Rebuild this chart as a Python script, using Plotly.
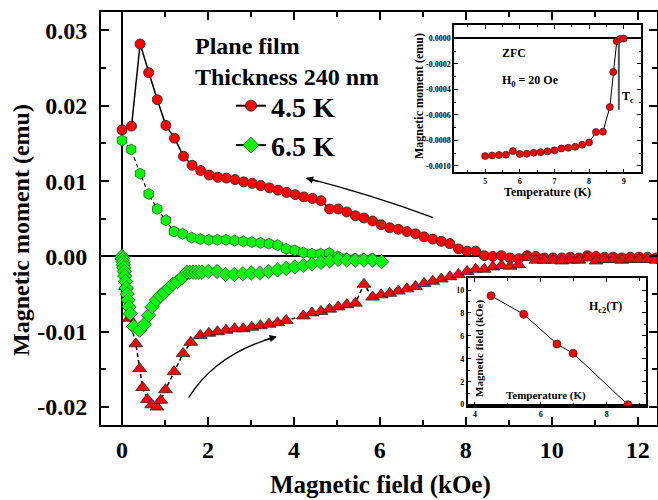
import plotly.graph_objects as go

FONT = "Liberation Serif"

# ---------------- main panel data ----------------
# 4.5 K, branch returning from high field (circles)
H_45_down = [0.0, 0.22, 0.42, 0.62, 0.82, 1.02, 1.22, 1.43, 1.63, 1.83,
             2.03, 2.23, 2.43, 2.63, 2.83, 3.03, 3.23, 3.43, 3.63, 3.83,
             4.03, 4.23, 4.43, 4.63, 4.83, 5.03, 5.23, 5.43, 5.63, 5.83,
             6.03, 6.23, 6.43, 6.63, 6.83, 7.03, 7.23, 7.43, 7.63, 7.83,
             8.03, 8.23, 8.43, 8.63, 8.83, 9.03, 9.23, 9.43, 9.63, 9.83,
             10.03, 10.23, 10.43, 10.63, 10.83, 11.03, 11.23, 11.43, 11.63, 11.83,
             12.03, 12.23, 12.43]
M_45_down = [0.0168, 0.0173, 0.0282, 0.0244, 0.0208, 0.0174, 0.0157, 0.0133, 0.0121, 0.0114,
             0.0108, 0.0105, 0.0104, 0.0102, 0.0099, 0.0097, 0.0094, 0.0091, 0.0088, 0.0085,
             0.0082, 0.0079, 0.0077, 0.0074, 0.0063, 0.0063, 0.0059, 0.0054, 0.0051, 0.0047,
             0.0042, 0.0038, 0.0036, 0.0033, 0.0030, 0.0026, 0.0023, 0.0020, 0.0017, 0.0010,
             0.0007, 0.0007, 0.0001, 0.0000, 0.0001, -0.0002, -0.0003, 0.0001, 0.0000, -0.0002,
             -0.0002, -0.0002, -0.0001, -0.0002, 0.0001, 0.0000, -0.0001, -0.0001, -0.0002, -0.0001,
             -0.0001, -0.0001, -0.0002]

# 4.5 K, branch with increasing field (triangles)
H_45_up = [0.0, 0.08, 0.17, 0.32, 0.41, 0.48, 0.59, 0.69, 0.81, 0.90,
           1.01, 1.21, 1.42, 1.60, 1.82, 2.02, 2.22, 2.42, 2.62, 2.82,
           3.02, 3.22, 3.42, 3.62, 3.82, 4.22, 4.42, 4.63, 4.83,
           5.03, 5.23, 5.43, 5.63, 5.83, 6.03, 6.23, 6.43, 6.63, 6.83,
           7.03, 7.23, 7.43, 7.63, 7.83, 8.03, 8.23, 8.43, 8.63, 8.83,
           9.03, 9.23, 9.43, 9.63, 9.83, 10.03, 10.23, 10.43, 10.63, 10.83,
           11.03, 11.23, 11.43, 11.63, 11.83, 12.03, 12.23, 12.43]
M_45_up = [0.0, -0.0040, -0.0082, -0.0116, -0.0149, -0.0174, -0.0190, -0.0197, -0.0200, -0.0191,
           -0.0177, -0.0153, -0.0129, -0.0114, -0.0105, -0.0102, -0.0100, -0.0098, -0.0096, -0.0096,
           -0.0094, -0.0092, -0.0090, -0.0088, -0.0085, -0.0079, -0.0075, -0.0073, -0.0070,
           -0.0067, -0.0064, -0.0062, -0.0037, -0.0054, -0.0051, -0.0049, -0.0046, -0.0043, -0.0040,
           -0.0036, -0.0033, -0.0030, -0.0027, -0.0024, -0.0020, -0.0017, -0.0017, -0.0014, -0.0012,
           -0.0013, -0.0011, -0.0001, -0.0005, -0.0005, -0.0005, -0.0006, -0.0005, -0.0005, -0.0002,
           -0.0006, -0.0004, -0.0004, -0.0005, -0.0004, -0.0004, -0.0004, -0.0005]

# 6.5 K, returning branch (hexagons)
H_65_down = [0.0, 0.21, 0.42, 0.62, 0.82, 1.02, 1.21, 1.41, 1.62, 1.82,
             2.02, 2.22, 2.42, 2.62, 2.82, 3.02, 3.22, 3.42, 3.62, 3.82,
             4.02, 4.22, 4.42, 4.62, 4.82, 5.02, 5.22, 5.42, 5.62, 5.82]
M_65_down = [0.0154, 0.0142, 0.0110, 0.0083, 0.0063, 0.0048, 0.0033, 0.0030, 0.0025, 0.0023,
             0.0022, 0.0022, 0.0022, 0.0021, 0.0020, 0.0019, 0.0018, 0.0017, 0.0015, 0.0010,
             0.0008, 0.0005, 0.00035, 0.00035, 0.00044, 0.0000, -0.00027, -0.0003, -0.0003, -0.0003]

# 6.5 K, increasing field branch (diamonds)
H_65_up = [0.0, 0.01, 0.02, 0.03, 0.04, 0.05, 0.06, 0.08, 0.10, 0.12, 0.14, 0.16, 0.19,
           0.27, 0.41, 0.52, 0.62, 0.70, 0.80, 0.89, 0.98, 1.09, 1.18,
           1.29, 1.40, 1.51, 1.58, 1.65, 1.72, 1.79, 1.86, 2.01, 2.21,
           2.41, 2.61, 2.81, 3.01, 3.21, 3.41, 3.62, 3.82, 4.02, 4.22,
           4.42, 4.63, 4.83, 5.03, 5.23, 5.43, 5.63, 5.83, 6.04]
M_65_up = [0.0, -0.0003, -0.0007, -0.0011, -0.0015, -0.0020, -0.0026, -0.0033, -0.0042, -0.0050,
           -0.0058, -0.0067, -0.0076,
           -0.0093, -0.0098, -0.0090, -0.0078, -0.0067, -0.0058, -0.0052, -0.0048, -0.0042, -0.0037,
           -0.0033, -0.0028, -0.0021, -0.0021, -0.0021, -0.0021, -0.0021, -0.0021, -0.0020, -0.0020,
           -0.0024, -0.0024, -0.0023, -0.0022, -0.0022, -0.0020, -0.0018, -0.0016, -0.0014, -0.0012,
           -0.0010, -0.0008, -0.0006, -0.0004, -0.0005, -0.0005, -0.0005, -0.0005, -0.0007]

main_xticks = [0, 2, 4, 6, 8, 10, 12]
main_yticks = [-0.02, -0.01, 0.0, 0.01, 0.02, 0.03]
main_yticktext = ["-0.02", "-0.01", "0.00", "0.01", "0.02", "0.03"]

# ---------------- inset 1: ZFC ----------------
T_zfc = [5.0, 5.2, 5.4, 5.6, 5.8, 6.0, 6.2, 6.4, 6.6, 6.8, 7.0, 7.2, 7.4, 7.6, 7.8,
         8.0, 8.2, 8.4, 8.6, 8.7, 8.8, 8.9, 9.0]
M_zfc = [-0.000923, -0.000918, -0.000915, -0.000912, -0.000884, -0.000907, -0.000905,
         -0.000897, -0.000892, -0.000886, -0.000878, -0.000863, -0.000858, -0.000850,
         -0.000834, -0.000816, -0.000735, -0.000732, -0.000539, -0.000264, -0.0000235,
         -0.000005, -0.0000026]
zfc_xticks = [5, 6, 7, 8, 9]
zfc_yticks = [-0.0010, -0.0008, -0.0006, -0.0004, -0.0002, 0.0]
zfc_yticktext = ["-0.0010", "-0.0008", "-0.0006", "-0.0004", "-0.0002", "0.0000"]
Tc_value = 8.86

# ---------------- inset 2: Hc2(T) ----------------
T_hc2 = [4.49, 5.48, 6.49, 6.98, 8.64]
H_hc2 = [9.5, 7.88, 5.29, 4.48, 0.0]
hc2_xticks = [4, 6, 8]
hc2_yticks = [0, 2, 4, 6, 8, 10]

RED = "#ff0000"
GREEN = "#00ff00"


def f(size):
    return dict(family=FONT, size=size, color="black", weight="bold")


fig = go.Figure()

fig.add_trace(go.Scatter(
    x=H_45_down, y=M_45_down, mode="lines+markers", showlegend=False,
    line=dict(color="black", width=1.5),
    marker=dict(symbol="circle", size=10, color=RED, line=dict(color="#222", width=0.8))))
fig.add_trace(go.Scatter(
    x=H_45_up, y=M_45_up, mode="lines+markers", showlegend=False,
    line=dict(color="black", width=1.5, dash="4px,3px"),
    marker=dict(symbol="triangle-up", size=12, color=RED, line=dict(color="#222", width=0.8))))
fig.add_trace(go.Scatter(
    x=H_65_down, y=M_65_down, mode="lines+markers", showlegend=False,
    line=dict(color="black", width=1.2, dash="4px,3px"),
    marker=dict(symbol="hexagon", size=11, color=GREEN, line=dict(color="#2d4d2d", width=0.8))))
fig.add_trace(go.Scatter(
    x=H_65_up, y=M_65_up, mode="lines+markers", showlegend=False,
    line=dict(color="black", width=1.2, dash="4px,3px"),
    marker=dict(symbol="diamond", size=11, color=GREEN, line=dict(color="#2d4d2d", width=0.8))))

# legend-only entries
fig.add_trace(go.Scatter(
    x=[None], y=[None], mode="lines+markers", name="4.5 K",
    line=dict(color="black", width=2),
    marker=dict(symbol="circle", size=11, color=RED, line=dict(color="#222", width=0.8))))
fig.add_trace(go.Scatter(
    x=[None], y=[None], mode="lines+markers", name="6.5 K",
    line=dict(color="black", width=2),
    marker=dict(symbol="diamond", size=12, color=GREEN, line=dict(color="#2d4d2d", width=0.8))))

# insets
fig.add_trace(go.Scatter(
    x=T_zfc, y=M_zfc, xaxis="x2", yaxis="y2", mode="lines+markers", showlegend=False,
    line=dict(color="black", width=1),
    marker=dict(symbol="circle", size=7, color=RED, line=dict(color="#222", width=0.7))))
fig.add_trace(go.Scatter(
    x=T_hc2, y=H_hc2, xaxis="x3", yaxis="y3", mode="lines+markers", showlegend=False,
    line=dict(color="black", width=1),
    marker=dict(symbol="circle", size=8, color=RED, line=dict(color="#222", width=0.7))))

W, HGT = 658, 500
L, R, T, B = 101, 1, 12, 75
pw, ph = W - L - R, HGT - T - B


def px(xp):
    return (xp - L) / pw


def py(yp):
    return (HGT - B - yp) / ph


axis_common = dict(showgrid=False, ticks="inside", linecolor="black", mirror="ticks",
                   tickcolor="black", showline=True)

fig.update_layout(
    width=W, height=HGT,
    margin=dict(l=L, r=R, t=T, b=B, autoexpand=False),
    paper_bgcolor="white", plot_bgcolor="white",
    font=f(14),
    xaxis=dict(**axis_common, range=[-0.49, 12.45], tickvals=main_xticks,
               ticklen=8, tickwidth=2, linewidth=2, tickfont=f(24),
               zeroline=True, zerolinecolor="black", zerolinewidth=2,
               minor=dict(dtick=1, ticklen=5, tickwidth=2, ticks="inside", tickcolor="black"),
               ticklabelstandoff=2),
    yaxis=dict(**axis_common, range=[-0.02238, 0.03245], tickvals=main_yticks,
               ticktext=main_yticktext,
               ticklen=8, tickwidth=2, linewidth=2, tickfont=f(24),
               zeroline=True, zerolinecolor="black", zerolinewidth=2,
               minor=dict(dtick=0.005, ticklen=5, tickwidth=2, ticks="inside", tickcolor="black"),
               ticklabelstandoff=7),
    xaxis2=dict(**axis_common, domain=[px(454), px(641)], anchor="y2", range=[4.1, 9.5],
                tickvals=zfc_xticks, ticklen=4, tickwidth=1.2, linewidth=1.5, tickfont=f(8),
                zeroline=False,
                minor=dict(dtick=0.5, ticklen=2.5, tickwidth=1, ticks="inside", tickcolor="black")),
    yaxis2=dict(**axis_common, domain=[py(172.3), py(25)], anchor="x2",
                range=[-0.00105, 0.000104], tickvals=zfc_yticks, ticktext=zfc_yticktext,
                ticklen=4, tickwidth=1.2, linewidth=1.5, tickfont=f(8),
                zeroline=True, zerolinecolor="black", zerolinewidth=1.5,
                minor=dict(dtick=0.0001, ticklen=2.5, tickwidth=1, ticks="inside", tickcolor="black")),
    xaxis3=dict(**axis_common, domain=[px(467.7), px(646)], anchor="y3", range=[3.78, 9.19],
                tickvals=hc2_xticks, ticklen=4, tickwidth=1.2, linewidth=1.5, tickfont=f(8),
                zeroline=False,
                minor=dict(dtick=1, ticklen=2.5, tickwidth=1, ticks="inside", tickcolor="black")),
    yaxis3=dict(**axis_common, domain=[py(405.7), py(278.3)], anchor="x3",
                range=[-0.09, 11.02], tickvals=hc2_yticks, ticklen=4, tickwidth=1.2,
                linewidth=1.5, tickfont=f(8),
                zeroline=True, zerolinecolor="black", zerolinewidth=1.5,
                minor=dict(dtick=1, ticklen=2.5, tickwidth=1, ticks="inside", tickcolor="black")),
    legend=dict(x=px(231), y=py(81), xanchor="left", yanchor="top",
                font=f(28), bgcolor="rgba(0,0,0,0)", borderwidth=0,
                itemsizing="trace", tracegroupgap=0),
)

annotations = [
    dict(text="Magnetic field (kOe)", x=px(380), y=py(485), font=f(25)),
    dict(text="Magnetic moment (emu)", x=px(21), y=py(230), font=f(24), textangle=-90),
    dict(text="Plane film", x=px(193), y=py(46), xanchor="left", font=f(24)),
    dict(text="Thickness 240 nm", x=px(193), y=py(77), xanchor="left", font=f(24)),
    # inset 1
    dict(text="Magnetic moment (emu)", x=px(419), y=py(96), font=f(12), textangle=-90),
    dict(text="Temperature (K)", x=px(547), y=py(192), font=f(12)),
    dict(text="ZFC", x=px(500), y=py(53), xanchor="left", font=f(12)),
    dict(text="H<sub>0</sub> = 20 Oe", x=px(500), y=py(81), xanchor="left", font=f(12)),
    dict(text="T<sub>c</sub>", x=px(620), y=py(97), xanchor="left", font=f(12)),
    # inset 2
    dict(text="Magnetic field (kOe)", x=px(479), y=py(349), font=f(11), textangle=-90),
    dict(text="Temperature (K)", x=px(546), y=py(395), font=f(11)),
    dict(text="H<sub>c2</sub>(T)", x=px(605), y=py(307), font=f(12)),
]
for a in annotations:
    a.update(xref="paper", yref="paper", showarrow=False)
    a.setdefault("xanchor", "center")
    a.setdefault("yanchor", "middle")
    fig.add_annotation(**a)

# curved arrows (sweep direction)
fig.add_shape(type="path", xref="x", yref="y",
              path="M 7.24,0.00515 Q 5.80,0.00818 4.30,0.01038",
              line=dict(color="black", width=1.3))
fig.add_shape(type="path", xref="x", yref="y",
              path="M 1.55,-0.01875 Q 2.18,-0.01294 3.58,-0.01067",
              line=dict(color="black", width=1.3))
fig.add_annotation(x=4.28, y=0.01041, xref="x", yref="y", ax=14, ay=4, text="",
                   showarrow=True, arrowhead=2, arrowsize=1.1, arrowwidth=1.3, arrowcolor="black")
fig.add_annotation(x=3.60, y=-0.01064, xref="x", yref="y", ax=-14, ay=4, text="",
                   showarrow=True, arrowhead=2, arrowsize=1.1, arrowwidth=1.3, arrowcolor="black")

# Tc marker line in inset 1
fig.add_shape(type="line", xref="x2", yref="y2", x0=Tc_value, x1=Tc_value,
              y0=-0.000026, y1=-0.00056, line=dict(color="#555", width=2))

fig.write_html("out.html", config={"displayModeBar": False},
               post_script="document.body.style.margin='0';document.body.style.overflow='hidden';")
